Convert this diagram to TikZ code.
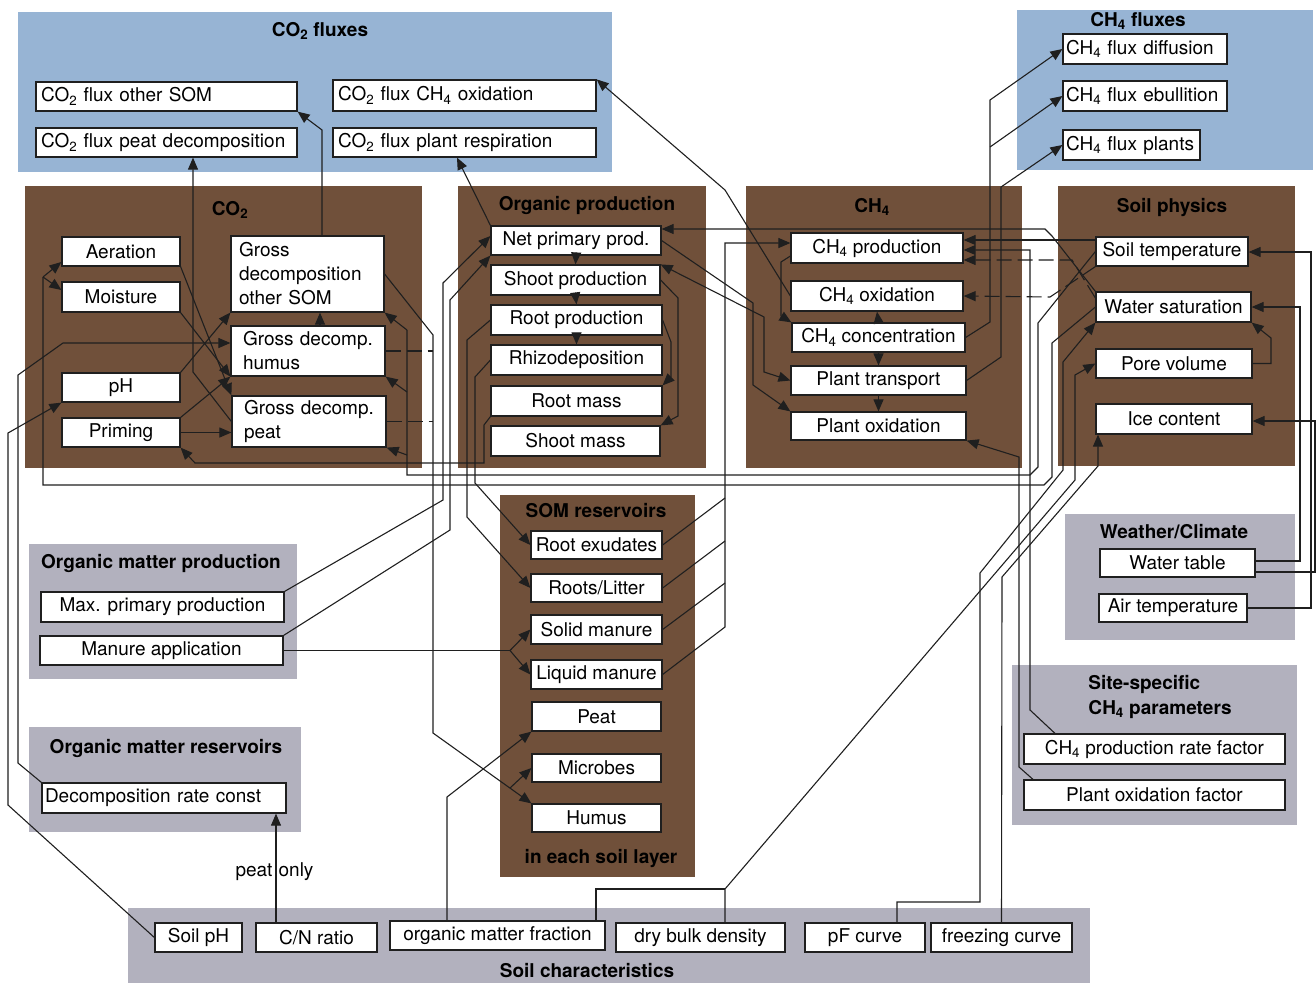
\documentclass[tikz,border=0pt]{standalone}
\usepackage{fontspec}
\setmainfont{TeX Gyre Heros}
\usepackage{xcolor}
\usepackage{tikz}
\usetikzlibrary{arrows.meta, calc, positioning}
\tikzset{
    mybox/.style={draw=Frame,fill=white,line width=1.2pt,inner xsep=4pt,inner ysep=0pt,align=center,font=\fontsize{19}{24}\selectfont},
    myleft/.style={align=left,inner xsep=5pt},
    mytitle/.style={inner sep=0pt,font=\bfseries\fontsize{19}{25}\selectfont},
    mylabel/.style={inner sep=1pt,font=\fontsize{19}{24}\selectfont},
    myline/.style={draw=Frame,line width=1.1pt},
    myarrow/.style={myline,-{Triangle[length=12pt,width=10pt]}},
    mybiarrow/.style={myline,{Triangle[length=12pt,width=10pt]}-{Triangle[length=12pt,width=10pt]}},
    mycross/.style={dash pattern=on 15pt off 6pt}
}
\definecolor{Blue}{RGB}{151,180,212}
\definecolor{Brown}{RGB}{112,80,58}
\definecolor{Grey}{RGB}{178,177,190}
\definecolor{Frame}{gray}{0.12}
\newcommand{\cotwo}{CO\textsubscript{2}}
\newcommand{\chfour}{CH\textsubscript{4}}

\begin{document}
\begin{tikzpicture}[x=1pt,y=-1pt]
  \useasboundingbox (0,0) rectangle (1316,983);

  % panels
  \fill [Blue] (18,12) rectangle (612,172);
  \fill [Blue] (1017,10) rectangle (1313,170);
  \fill [Brown] (25,186) rectangle (422,468);
  \fill [Brown] (458,186) rectangle (706,468);
  \fill [Brown] (746,186) rectangle (1022,468);
  \fill [Brown] (1058,186) rectangle (1295,466);
  \fill [Brown] (500,495) rectangle (695,877);
  \fill [Grey] (29,544) rectangle (297,679);
  \fill [Grey] (29,727) rectangle (301,832);
  \fill [Grey] (1065,514) rectangle (1295,640);
  \fill [Grey] (1012,665) rectangle (1297,825);
  \fill [Grey] (128,908) rectangle (1090,983);

  \node[mytitle] (tco2f) at (320,31) {\cotwo{} fluxes};
  \node[mytitle] (tch4f) at (1138,21) {\chfour{} fluxes};
  \node[mytitle] (tco2) at (230,210) {\cotwo};
  \node[mytitle] (torg) at (587,205) {Organic production};
  \node[mytitle] (tch4) at (872,207) {\chfour};
  \node[mytitle] (tsoil) at (1172,207) {Soil physics};
  \node[mytitle] (tsom) at (596,511) {SOM reservoirs};
  \node[mytitle] (tlayer) at (601,858) {in each soil layer};
  \node[mytitle] (tomp) at (161,563) {Organic matter production};
  \node[mytitle] (tomr) at (166,748) {Organic matter reservoirs};
  \node[mytitle] (tweather) at (1174,532) {Weather/Climate};
  \node[mytitle,align=left] (tsite) at (1160,697) {Site-specific\\\chfour{} parameters};
  \node[mytitle] (tchar) at (587,971) {Soil characteristics};

  % CO2 fluxes
  \node[mybox,myleft,text width=251pt,minimum height=29pt] (fsom) at (166.5,96.5) {\cotwo{} flux other SOM};
  \node[mybox,myleft,text width=251pt,minimum height=29pt] (fpeat) at (166.5,142.5) {\cotwo{} flux peat decomposition};
  \node[mybox,myleft,text width=253pt,minimum height=31pt] (foxi) at (464.5,95.5) {\cotwo{} flux \chfour{} oxidation};
  \node[mybox,myleft,text width=253pt,minimum height=29pt] (fresp) at (464.5,142.5) {\cotwo{} flux plant respiration};
  % CH4 fluxes
  \node[mybox,myleft,inner xsep=3pt,text width=158pt,minimum height=30pt] (mdiff) at (1145,49) {\chfour{} flux diffusion};
  \node[mybox,myleft,inner xsep=3pt,text width=158pt,minimum height=30pt] (mebul) at (1145,96) {\chfour{} flux ebullition};
  \node[mybox,myleft,inner xsep=3pt,text width=131pt,minimum height=30pt] (mplant) at (1131.5,145) {\chfour{} flux plants};
  % CO2
  \node[mybox,minimum width=118pt,minimum height=29pt] (aer) at (121,251.5) {Aeration};
  \node[mybox,minimum width=118pt,minimum height=30pt] (moist) at (121,297) {Moisture};
  \node[mybox,minimum width=118pt,minimum height=29pt] (ph) at (121,387.5) {pH};
  \node[mybox,minimum width=118pt,minimum height=29pt] (prim) at (121,432.5) {Priming};
  \node[mybox,myleft,inner xsep=8pt,text width=137pt,minimum height=76pt] (gsom) at (307.5,274) {Gross\\decomposition\\other SOM};
  \node[mybox,myleft,inner xsep=12pt,text width=130pt,minimum height=50pt] (ghum) at (308,351) {Gross decomp.\\humus};
  \node[mybox,myleft,inner xsep=12pt,text width=130pt,minimum height=51pt] (gpeat) at (309,421.5) {Gross decomp.\\peat};
  % organic production
  \node[mybox,minimum width=170pt,minimum height=29pt] (npp) at (576,240.5) {Net primary prod.};
  \node[mybox,minimum width=169pt,minimum height=30pt] (shp) at (575.5,280) {Shoot production};
  \node[mybox,minimum width=171pt,minimum height=30pt] (rtp) at (576.5,320) {Root production};
  \node[mybox,minimum width=171pt,minimum height=30pt] (rhz) at (576.5,360) {Rhizodeposition};
  \node[mybox,minimum width=171pt,minimum height=30pt] (rtm) at (576.5,401) {Root mass};
  \node[mybox,minimum width=169pt,minimum height=30pt] (shm) at (575.5,441) {Shoot mass};
  % CH4
  \node[mybox,minimum width=172pt,minimum height=30pt] (mprod) at (877,248) {\chfour{} production};
  \node[mybox,minimum width=172pt,minimum height=30pt] (moxi) at (877,296) {\chfour{} oxidation};
  \node[mybox,minimum width=173pt,minimum height=29pt] (mconc) at (878.5,337.5) {\chfour{} concentration};
  \node[mybox,minimum width=175pt,minimum height=29pt] (ptrans) at (878.5,380.5) {Plant transport};
  \node[mybox,minimum width=175pt,minimum height=28pt] (poxi) at (878.5,426) {Plant oxidation};
  % soil physics
  \node[mybox,minimum width=152pt,minimum height=29pt] (stemp) at (1172,251.5) {Soil temperature};
  \node[mybox,minimum width=155pt,minimum height=30pt] (wsat) at (1173.5,307) {Water saturation};
  \node[mybox,minimum width=156pt,minimum height=29pt] (pore) at (1174,363.5) {Pore volume};
  \node[mybox,minimum width=156pt,minimum height=30pt] (ice) at (1174,419) {Ice content};
  % SOM reservoirs
  \node[mybox,minimum width=131pt,minimum height=28pt] (rexu) at (596.5,545) {Root exudates};
  \node[mybox,minimum width=131pt,minimum height=28pt] (rlit) at (596.5,588) {Roots/Litter};
  \node[mybox,minimum width=131pt,minimum height=29pt] (smn) at (596.5,629.5) {Solid manure};
  \node[mybox,minimum width=131pt,minimum height=29pt] (lmn) at (596.5,674.5) {Liquid manure};
  \node[mybox,minimum width=129pt,minimum height=29pt] (peat) at (596.5,716.5) {Peat};
  \node[mybox,minimum width=129pt,minimum height=28pt] (micr) at (596.5,768) {Microbes};
  \node[mybox,minimum width=129pt,minimum height=28pt] (hum) at (596.5,818) {Humus};
  % inputs
  \node[mybox,minimum width=243pt,minimum height=30pt] (maxpp) at (162.5,607) {Max. primary production};
  \node[mybox,minimum width=243pt,minimum height=29pt] (manap) at (161.5,650.5) {Manure application};
  \node[mybox,myleft,inner xsep=3pt,text width=238pt,minimum height=30pt] (drc) at (164,798) {Decomposition rate const};
  \node[mybox,minimum width=155pt,minimum height=28pt] (wtab) at (1177.5,563) {Water table};
  \node[mybox,minimum width=148pt,minimum height=28pt] (atemp) at (1173,608) {Air temperature};
  \node[mybox,minimum width=261pt,minimum height=30pt] (prf) at (1154.5,749) {\chfour{} production rate factor};
  \node[mybox,minimum width=261pt,minimum height=30pt] (pof) at (1154.5,795) {Plant oxidation factor};
  \node[mybox,minimum width=87pt,minimum height=29pt] (sph) at (198.5,937.5) {Soil pH};
  \node[mybox,minimum width=121pt,minimum height=29pt] (cn) at (316.5,937.5) {C/N ratio};
  \node[mybox,minimum width=215pt,minimum height=29pt] (omf) at (497.5,935.5) {organic matter fraction};
  \node[mybox,minimum width=169pt,minimum height=29pt] (dbd) at (700.5,937.5) {dry bulk density};
  \node[mybox,minimum width=120pt,minimum height=29pt] (pfc) at (865,937.5) {pF curve};
  \node[mybox,minimum width=141pt,minimum height=29pt] (frz) at (1001.5,937.5) {freezing curve};
  \node[mylabel] (peatlbl) at (254,872) {peat};
  \node[mylabel] (onlylbl) at (296,872) {only};

  % to the flux panels
  \draw[myarrow] (gpeat.west) -- (193,372) -- (193,0 |- fpeat.south);
  \draw[myarrow] (322,0 |- gsom.north) -- (322,130) -- (fsom.south east);
  \draw[myarrow] (npp.north west) -- (457,0 |- fresp.south);
  \draw[myarrow] (moxi.west) -- (725,190) -- (foxi.north east);
  \draw[myarrow] (mconc.east) -- (990,322) -- (990,100) -- (mdiff.west);
  \draw[myarrow] (990,147) -- (mebul.west);
  \draw[myarrow] (ptrans.east) -- (1001,357) -- (1001,187) -- (mplant.west);

  % CO2 panel
  \draw[myarrow] (aer.south east) -- (gpeat.north west);
  \draw[myarrow] (moist.south east) -- (ghum.south west);
  \draw[myarrow] (ph.north east) -- (gsom.south west);
  \draw[myarrow] (prim.north east) -- (ghum.south west);
  \draw[myarrow] (prim.east) -- (gpeat.west |- prim.east);
  \draw[myarrow] (320,0 |- ghum.north) -- (320,0 |- gsom.south);
  \draw[myarrow] (drc.north west) -- (18,763) -- (18,375) -- (63,343) -- (ghum.west |- 0,343);
  \draw[myarrow] (sph.west) -- (8,805) -- (8,433) -- (ph.south west);
  \draw[myline] (stemp.west) -- (1038,323) -- (1038,467) -- (1030,475) -- (407,475) -- (407,330);
  \draw[myarrow] (407,330) -- (gsom.south east);
  \draw[myarrow] (407,392) -- (ghum.south east);
  \draw[myarrow] (407,455) -- (gpeat.south east);
  \draw[myline] (wsat.west) -- (1052,343) -- (1052,477) -- (1044,485) -- (43,485) -- (43,277);
  \draw[myarrow] (43,277) -- (aer.west |- 0,262);
  \draw[myarrow] (43,277) -- (moist.west |- 0,290);

  % decomposition into SOM
  \draw[myarrow] (gsom.east) -- (433,335) -- (433,733) -- (hum.north west);
  \draw[myarrow] (510,788) -- (micr.west);
  \draw[myline,mycross] (ghum.east) -- (433,0 |- ghum.east);
  \draw[myline,mycross] (gpeat.east) -- (433,0 |- gpeat.east);

  % organic production
  \draw[myarrow] (maxpp.north east) -- (443,500) -- (443,283) -- (npp.west |- 0,236);
  \draw[myarrow] (manap.north east) -- (450,530) -- (450,300) -- (npp.south west);
  \draw[myline] (manap.east) -- (510,0 |- manap.east);
  \draw[myarrow] (510,0 |- manap.east) -- (smn.west);
  \draw[myarrow] (510,0 |- manap.east) -- (lmn.west);
  \draw[myarrow] (npp.south) -- (shp.north);
  \draw[myarrow] (shp.south) -- (rtp.north);
  \draw[myarrow] (rtp.south) -- (rhz.north);
  \draw[myarrow] (shp.east) -- (678,298) -- (678,416) -- (shm.north east);
  \draw[myarrow] (rtp.east) -- (671,342) -- (671,377) -- (rtm.north east);
  \draw[myarrow] (rtp.west) -- (467,340) -- (467,517) -- (rlit.west);
  \draw[myarrow] (rhz.west) -- (475,377) -- (475,483) -- (rexu.west);
  \draw[myarrow] (rtm.south west) -- (484,425) -- (484,463) -- (195,463) -- (prim.south east);

  % SOM reservoirs to CH4
  \draw[myarrow] (lmn.east) -- (725,627) -- (725,243) -- (mprod.west |- 0,243);
  \draw[myline] (rexu.east) -- (725,498);
  \draw[myline] (rlit.east) -- (725,541);
  \draw[myline] (smn.east) -- (725,583);
  \draw[myarrow] (npp.east) -- (753,303) -- (753,385) -- (poxi.north west);
  \draw[mybiarrow] (shp.north east) -- (764,317) -- (764,372) -- (ptrans.west);

  % CH4 panel
  \draw[myarrow] (mprod.west |- 0,256) -- (781,262) -- (781,316) -- (mconc.north west);
  \draw[myarrow] (mconc.north) -- (moxi.south);
  \draw[myarrow] (mconc.south) -- (ptrans.north);
  \draw[myarrow] (ptrans.south) -- (poxi.north);
  \draw[myarrow] (stemp.west |- 0,240) -- (mprod.east |- 0,240);
  \draw[myarrow,mycross] (wsat.west |- 0,298) -- (1072,260) -- (mprod.east |- 0,260);
  \draw[myarrow,mycross] (stemp.south west) -- (1050,297) -- (moxi.east);
  \draw[myarrow] (wsat.north west) -- (1052,236) -- (1045,229) -- (npp.east |- 0,229);
  \draw[myarrow] (1055,0 |- prf.north) -- (1030,710) -- (1030,250) -- (mprod.east |- 0,250);
  \draw[myarrow] (1033,0 |- pof.north) -- (1019,767) -- (1019,457) -- (poxi.south east);

  % weather and soil physics
  \draw[myarrow] (atemp.east) -- (1311,0 |- atemp.east) -- (1311,252) -- (stemp.east |- 0,252);
  \draw[myarrow] (wtab.east |- 0,561) -- (1300,561) -- (1300,0 |- wsat.east) -- (wsat.east);
  \draw[myarrow] (wtab.east |- 0,572) -- (1315,572) -- (1315,421) -- (ice.east |- 0,421);
  \draw[myarrow] (pore.east) -- (1271,0 |- pore.east) -- (1271,338) -- (wsat.south east);

  % soil characteristics
  \draw[myarrow] (276,0 |- cn.north) -- (276,0 |- drc.south);
  \draw[myarrow] (447,0 |- omf.north) -- (447,797) -- (peat.south west);
  \draw[myline] (596,0 |- omf.north) -- (596,889) -- (725,889);
  \draw[myarrow] (725,0 |- dbd.north) -- (725,889) -- (1075,480) -- (1075,375) -- (pore.west);
  \draw[myarrow] (897,0 |- pfc.north) -- (897,902) -- (980,902) -- (980,573) -- (1063,470) -- (1063,362) -- (wsat.south west);
  \draw[myarrow] (frz.north) -- (1002,577) -- (1098,466) -- (1098,0 |- ice.south);
\end{tikzpicture}
\end{document}
